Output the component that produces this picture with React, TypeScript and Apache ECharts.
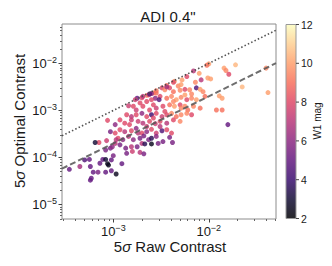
import React, { useEffect, useRef } from "react";
import * as echarts from "echarts";

// log10 of 5-sigma raw contrast, log10 of 5-sigma optimal contrast, W1 magnitude
const logRawContrast = [
  -2.0, -2.02, -2.16, -2.1, -1.84, -1.82, -1.72, -1.79, -1.4, -2.23,
  -2.08, -2.01, -1.98, -2.14, -2.28, -2.36, -2.37, -2.44, -2.49, -2.55,
  -2.58, -2.6, -2.65, -2.7, -2.13, -2.09, -2.2, -2.18, -2.25, -2.3,
  -1.65, -1.38, -2.41, -2.46, -2.75, -2.69, -2.63, -2.56, -2.51, -2.44,
  -2.39, -2.34, -2.29, -2.23, -2.18, -2.13, -2.72, -2.65, -2.58, -2.52,
  -2.48, -2.41, -2.36, -2.3, -2.25, -2.22, -1.89, -1.86, -1.92, -1.86,
  -2.79, -2.84, -2.76, -2.86, -2.81, -2.76, -2.7, -2.65, -2.6, -2.55,
  -2.49, -2.44, -2.39, -2.34, -2.29, -2.23, -2.18, -2.93, -2.88, -2.83,
  -2.74, -2.69, -2.62, -2.56, -2.51, -2.44, -2.37, -2.3, -3.06, -1.8,
  -2.98, -3.03, -2.98, -2.93, -2.88, -2.81, -2.76, -2.7, -2.65, -2.6,
  -2.55, -2.49, -2.44, -2.39, -2.95, -2.9, -2.84, -2.79, -2.72, -2.68,
  -2.63, -2.6, -2.55, -2.48, -2.41, -2.38, -3.15, -3.19, -3.07, -3.08,
  -3.03, -3.01, -2.98, -2.93, -2.87, -2.81, -2.75, -2.7, -2.67, -2.6,
  -2.53, -2.8, -2.72, -2.68, -2.86, -3.0, -3.02, -3.11, -3.08, -3.3,
  -3.25, -3.46, -3.35, -3.24, -3.21, -3.16, -3.14, -3.06, -3.05, -3.08,
  -3.02, -2.97, -2.91, -3.24, -3.23, -2.77, -2.62, -2.44, -2.37, -2.32,
  -2.62, -2.55, -2.46, -2.69, -2.6, -2.37, -2.29, -2.16, -2.06, -2.04,
  -2.81, -2.65, -2.58, -2.51, -2.09, -2.25, -2.55, -2.74, -2.97, -2.29,
];
const logOptContrast = [
  -2.01, -2.04, -2.16, -2.21, -2.1, -2.15, -2.03, -2.23, -2.1, -2.28,
  -2.35, -2.31, -2.33, -2.4, -2.35, -2.38, -2.4, -2.47, -2.52, -2.58,
  -2.63, -2.64, -2.68, -2.73, -2.52, -2.55, -2.56, -2.65, -2.55, -2.57,
  -2.5, -2.62, -2.52, -2.56, -2.74, -2.7, -2.67, -2.74, -2.7, -2.74,
  -2.7, -2.77, -2.72, -2.77, -2.74, -2.77, -2.84, -2.81, -2.88, -2.77,
  -2.91, -2.88, -2.91, -2.88, -2.91, -2.99, -2.69, -2.74, -2.99, -2.99,
  -2.91, -2.9, -2.99, -3.09, -3.13, -3.09, -3.06, -3.13, -3.09, -3.06,
  -3.13, -3.09, -3.06, -3.13, -3.09, -3.06, -3.09, -3.2, -3.27, -3.3,
  -3.23, -3.27, -3.23, -3.28, -3.23, -3.27, -3.2, -3.23, -3.21, -3.3,
  -3.3, -3.45, -3.48, -3.41, -3.45, -3.43, -3.38, -3.48, -3.45, -3.4,
  -3.48, -3.43, -3.41, -3.48, -3.59, -3.62, -3.55, -3.62, -3.59, -3.54,
  -3.62, -3.59, -3.55, -3.66, -3.57, -3.68, -3.68, -3.68, -3.64, -3.84,
  -3.8, -3.77, -3.7, -3.73, -3.8, -3.77, -3.77, -3.7, -3.71, -3.71,
  -3.7, -3.87, -3.89, -3.92, -3.91, -3.96, -4.05, -4.04, -4.04, -4.05,
  -4.04, -4.25, -4.19, -4.19, -4.31, -4.31, -4.12, -4.13, -4.16, -4.31,
  -4.28, -4.35, -4.13, -4.48, -4.44, -2.77, -2.65, -2.5, -2.6, -2.48,
  -2.99, -2.95, -3.02, -2.91, -2.77, -2.81, -2.95, -2.91, -2.6, -2.7,
  -3.2, -3.34, -3.16, -3.34, -2.95, -2.67, -2.63, -3.48, -3.62, -2.45,
];
const w1Mag = [
  10, 9, 7, 10, 10, 9.5, 10.5, 8, 9.5, 8,
  7, 10, 10, 9.5, 10, 10, 8, 9, 8, 9,
  9, 6, 9.5, 8, 4.5, 10, 9.5, 9.5, 8, 9.5,
  10.5, 10, 8, 9.5, 5, 7, 8, 6, 8, 9,
  9.5, 10, 9.5, 8, 9.5, 10, 8, 8, 8, 4.5,
  8, 9, 10, 8, 9.5, 9, 10, 10, 9, 9,
  8, 7.5, 7.5, 8, 7, 8, 6, 8, 4, 8,
  7.5, 8, 9.5, 9, 9.5, 9.5, 8, 8, 8, 8,
  7.5, 7, 8, 7.5, 8, 7, 8, 9.5, 8, 5,
  6, 5.5, 8, 8, 7, 8, 6, 8, 6, 8,
  7.5, 4.5, 8, 8, 8, 6, 7, 6, 5.5, 5.5,
  5.5, 3.5, 6, 5.5, 5.5, 5.5, 8, 3, 7.5, 5.5,
  5.5, 6, 7, 5.5, 5.5, 7, 5.5, 7, 3.5, 2.5,
  5.5, 7.5, 7, 5.5, 5.5, 5.5, 5, 5, 3, 4.5,
  5, 5, 6.5, 5, 5, 5.5, 5, 2.5, 2.5, 5,
  5, 2.5, 5, 5, 5, 7.5, 4.5, 6.5, 9, 9.5,
  8, 7.5, 8, 8, 8, 9.5, 9.5, 9.5, 9.5, 9,
  7.5, 7.5, 8, 7, 9, 10, 9, 7, 7, 10,
];

const xMajorTicks = [-3, -2];
const yMajorTicks = [-5, -4, -3, -2];
const xDecades = [-4, -3, -2];
const yDecades = [-6, -5, -4, -3, -2];
const xRange = [-3.537, -1.296];
const yRange = [-5.305, -1.163];
const w1Range = [2, 12];
const colorbarTicks = [2, 4, 6, 8, 10, 12];
// reference lines: optimal = raw (dotted) and optimal = raw / 5 (dashed)
const lineRatios = [1, 0.2];

const magma = [
  "#000004", "#140e36", "#3b0f70", "#641a80", "#8c2981", "#b73779",
  "#de4968", "#f7705c", "#fe9f6d", "#fecf92", "#fcfdbf",
];

const FONT = "Liberation Sans, Arial, sans-serif";
const TEXT = "#1a1a1a";

function minorTicks(decades: number[], range: number[]) {
  const out: number[] = [];
  decades.forEach((d) => {
    for (let k = 2; k <= 9; k++) {
      const v = d + Math.log10(k);
      if (v > range[0] && v < range[1]) out.push(v);
    }
  });
  return out;
}

const labelFmt = (v: number) => `{b|10}{s|\u2212${Math.abs(Math.round(v))}}`;
const labelRich = {
  b: { fontSize: 13, fontFamily: FONT, color: TEXT },
  s: { fontSize: 9, fontFamily: FONT, color: TEXT, padding: [0, 0, 7, 0] },
};

export default function App() {
  const ref = useRef<HTMLDivElement>(null);
  useEffect(() => {
    if (!ref.current) return;
    const chart = echarts.init(ref.current, undefined, { renderer: "svg" });

    const grid = { left: 62, top: 24, width: 214, height: 195 };
    const cb = { x: 286, y: 24.5, w: 10, h: 194 };

    const points = logRawContrast.map((x, i) => [x, logOptContrast[i], w1Mag[i]]);
    const lineSeries = lineRatios.map((r, i) => ({
      type: "line",
      data: xRange.map((x) => [x, x + Math.log10(r)]),
      symbol: "none",
      silent: true,
      z: 5,
      lineStyle: {
        color: i === 0 ? "#4a4a4a" : "#555555",
        width: i === 0 ? 1.6 : 2,
        type: i === 0 ? [1.5, 2.2] : [6, 3],
        opacity: i === 0 ? 0.95 : 0.85,
        cap: "butt",
      },
    }));

    const xMinor = minorTicks(xDecades, xRange);
    const yMinor = minorTicks(yDecades, yRange);

    const axisCommon = {
      type: "value",
      splitLine: { show: false },
      axisLine: { show: false },
    };

    const cbStops = magma.map((c, i) => ({ offset: 1 - i / 10, color: c }));
    const cbGraphics: any[] = [
      {
        type: "rect",
        silent: true,
        shape: { x: cb.x, y: cb.y, width: cb.w, height: cb.h },
        style: {
          fill: new echarts.graphic.LinearGradient(0, 0, 0, 1, cbStops.slice().reverse()),
          opacity: 0.85,
        },
      },
      {
        type: "rect",
        silent: true,
        shape: { x: cb.x, y: cb.y, width: cb.w, height: cb.h },
        style: { fill: "none", stroke: "#999", lineWidth: 1 },
      },
    ];
    colorbarTicks.forEach((t) => {
      const y = cb.y + cb.h - ((t - w1Range[0]) / (w1Range[1] - w1Range[0])) * cb.h;
      cbGraphics.push({
        type: "line",
        silent: true,
        shape: { x1: cb.x + cb.w, y1: y, x2: cb.x + cb.w + 3, y2: y },
        style: { stroke: "#444", lineWidth: 1 },
      });
      cbGraphics.push({
        type: "text",
        silent: true,
        x: cb.x + cb.w + 5,
        y,
        style: {
          text: String(t),
          fontSize: 10.5,
          fontFamily: FONT,
          fill: TEXT,
          align: "left",
          verticalAlign: "middle",
          textAlign: "left",
          textVerticalAlign: "middle",
        },
      });
    });

    const richText = (label: string) => `{n|5}{i|\u03c3}{n|${label}}`;
    const titleRich = {
      n: { fontSize: 15, fontFamily: FONT, fill: TEXT, color: TEXT },
      i: { fontSize: 15, fontFamily: FONT, fontStyle: "italic", fill: TEXT, color: TEXT },
    };

    chart.setOption({
      animation: false,
      grid: { ...grid, show: true, borderColor: "#8c8c8c", borderWidth: 1, backgroundColor: "transparent" },
      xAxis: [
        {
          ...axisCommon,
          min: xRange[0],
          max: xRange[1],
          position: "bottom",
          axisTick: { show: true, customValues: xMajorTicks, length: 3.5, lineStyle: { color: "#444" } },
          axisLabel: { customValues: xMajorTicks, formatter: labelFmt, rich: labelRich, margin: 4 },
        },
        {
          ...axisCommon,
          min: xRange[0],
          max: xRange[1],
          position: "bottom",
          axisTick: { show: true, customValues: xMinor, length: 2, lineStyle: { color: "#666" } },
          axisLabel: { show: false },
        },
      ],
      yAxis: [
        {
          ...axisCommon,
          min: yRange[0],
          max: yRange[1],
          position: "left",
          axisTick: { show: true, customValues: yMajorTicks, length: 3.5, lineStyle: { color: "#444" } },
          axisLabel: { customValues: yMajorTicks, formatter: labelFmt, rich: labelRich, margin: 5 },
        },
        {
          ...axisCommon,
          min: yRange[0],
          max: yRange[1],
          position: "left",
          axisTick: { show: true, customValues: yMinor, length: 2, lineStyle: { color: "#666" } },
          axisLabel: { show: false },
        },
      ],
      visualMap: {
        type: "continuous",
        show: false,
        dimension: 2,
        min: w1Range[0],
        max: w1Range[1],
        seriesIndex: 0,
        inRange: { color: magma },
      },
      series: [
        {
          type: "scatter",
          data: points,
          symbolSize: 5,
          itemStyle: { opacity: 0.82 },
          z: 3,
        },
        ...lineSeries,
      ],
      graphic: [
        {
          type: "text",
          silent: true,
          x: 168,
          y: 16,
          style: {
            text: 'ADI 0.4"',
            fontSize: 15,
            fontFamily: FONT,
            fill: TEXT,
            align: "center",
            verticalAlign: "middle",
            textAlign: "center",
            textVerticalAlign: "middle",
          },
        },
        {
          type: "text",
          silent: true,
          x: 170,
          y: 246,
          style: {
            text: richText(" Raw Contrast"),
            rich: titleRich,
            fontSize: 15,
            fontFamily: FONT,
            fill: TEXT,
            align: "center",
            verticalAlign: "middle",
            textAlign: "center",
            textVerticalAlign: "middle",
          },
        },
        {
          type: "text",
          silent: true,
          x: 19,
          y: 121,
          rotation: Math.PI / 2,
          style: {
            text: richText(" Optimal Contrast"),
            rich: titleRich,
            fontSize: 15,
            fontFamily: FONT,
            fill: TEXT,
            align: "center",
            verticalAlign: "middle",
            textAlign: "center",
            textVerticalAlign: "middle",
          },
        },
        ...cbGraphics,
        {
          type: "text",
          silent: true,
          x: 317,
          y: 121,
          rotation: Math.PI / 2,
          style: {
            text: "W1 mag",
            fontSize: 10,
            fontFamily: FONT,
            fill: TEXT,
            align: "center",
            verticalAlign: "middle",
            textAlign: "center",
            textVerticalAlign: "middle",
          },
        },
      ],
    });
    return () => chart.dispose();
  }, []);

  return (
    <div
      ref={ref}
      style={{ position: "fixed", left: 0, top: 0, width: 332, height: 266, background: "#fff" }}
    />
  );
}
